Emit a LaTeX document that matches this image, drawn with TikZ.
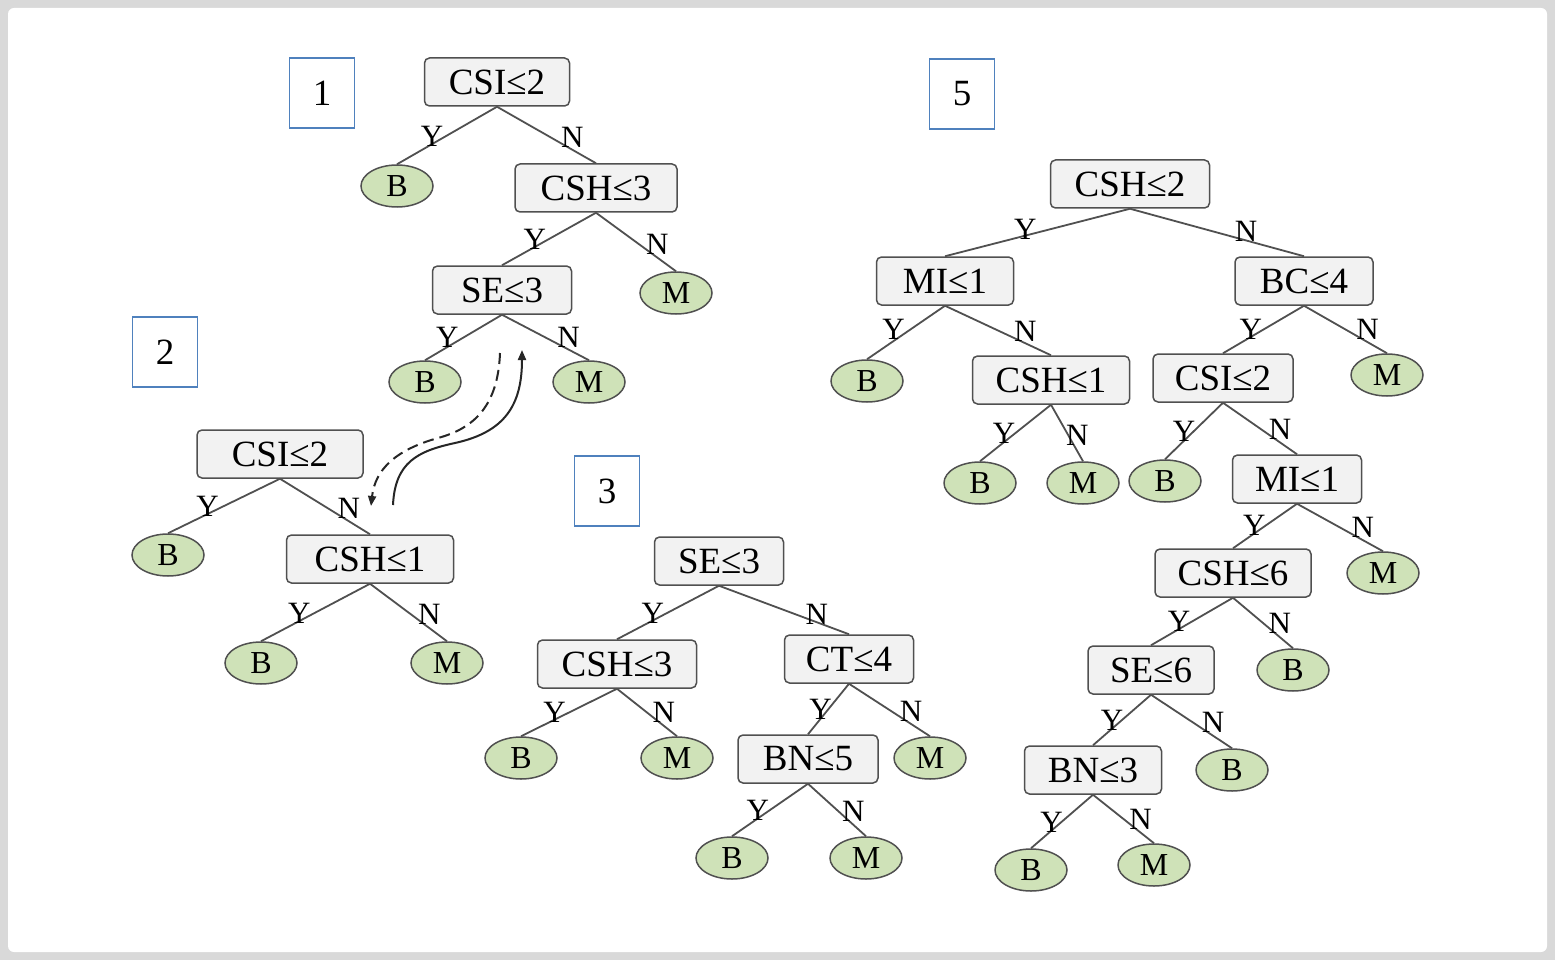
\documentclass[tikz,border=0pt]{standalone}
\usepackage{fontspec}
\setmainfont{Liberation Serif}
\usetikzlibrary{arrows.meta,shapes.geometric}
\definecolor{framegray}{HTML}{D9D9D9}
\definecolor{boxfill}{HTML}{F2F2F2}
\definecolor{boxline}{HTML}{505050}
\definecolor{leaffill}{HTML}{CFE2B8}
\definecolor{edgecol}{HTML}{505050}
\definecolor{tagblue}{HTML}{4F81BD}
\begin{document}
\begin{tikzpicture}[x=1pt,y=-1pt,
  test/.style={draw=boxline, fill=boxfill, rounded corners=5pt, line width=1.5pt,
    minimum width=#1pt, minimum height=48pt, inner sep=0pt,
    font=\fontsize{37}{37}\selectfont},
  leaf/.style={ellipse, draw=boxline, fill=leaffill, line width=1.5pt,
    minimum width=72pt, minimum height=42pt, inner sep=0pt,
    font=\fontsize{32}{32}\selectfont},
  tag/.style={draw=tagblue, fill=white, line width=1.2pt, minimum width=65pt,
    minimum height=70pt, inner sep=0pt, font=\fontsize{37}{37}\selectfont},
  br/.style={draw=edgecol, line width=1.8pt},
  ylab/.style={pos=0.62, yshift=6pt, xshift=-3pt, inner sep=0pt, font=\fontsize{31}{31}\selectfont},
  nlab/.style={pos=0.73, yshift=11pt, xshift=3pt, inner sep=0pt, font=\fontsize{31}{31}\selectfont},
  flow/.style={line width=2pt, draw=black!85, -{Triangle[length=10pt,width=8pt]}}
]
\fill[framegray] (0,0) rectangle (1555,960);
\fill[white, rounded corners=6pt] (8,8) rectangle (1547,952);

% tags
\node[tag] (t1) at (322,93) {1};
\node[tag] (t2) at (165,352) {2};
\node[tag] (t3) at (607,491) {3};
\node[tag] (t5) at (962,94) {5};

% tree 1
\node[test=145] (a1) at (497,82) {CSI≤2};
\node[leaf] (a1y) at (397,186) {B};
\node[test=162] (a2) at (596,188) {CSH≤3};
\node[test=139] (a3) at (502,290) {SE≤3};
\node[leaf] (a2n) at (676,293) {M};
\node[leaf] (a3y) at (425,382) {B};
\node[leaf] (a3n) at (589,382) {M};
\draw[br] (a1.south) -- node[ylab]{Y} (a1y.north);
\draw[br] (a1.south) -- node[nlab]{N} (a2.north);
\draw[br] (a2.south) -- node[ylab]{Y} (a3.north);
\draw[br] (a2.south) -- node[nlab]{N} (a2n.north);
\draw[br] (a3.south) -- node[ylab, xshift=-4pt]{Y} (a3y.north);
\draw[br] (a3.south) -- node[nlab]{N} (a3n.north);

% tree 2
\node[test=166] (b1) at (280,454) {CSI≤2};
\node[leaf] (b1y) at (168,555) {B};
\node[test=167] (b2) at (370,559) {CSH≤1};
\node[leaf] (b2y) at (261,663) {B};
\node[leaf] (b2n) at (447,663) {M};
\draw[br] (b1.south) -- node[ylab]{Y} (b1y.north);
\draw[br] (b1.south) -- node[nlab]{N} (b2.north);
\draw[br] (b2.south) -- node[ylab]{Y} (b2y.north);
\draw[br] (b2.south) -- node[nlab]{N} (b2n.north);

% flow arrows
\coordinate (s0) at (393,505);
\coordinate (s1) at (522,350);
\coordinate (q0) at (500,353);
\coordinate (q1) at (371,506);
\draw[flow] (s0) .. controls (395,462) and (418,451) .. (455,443)
  .. controls (505,432) and (522,405) .. (s1);
\draw[flow, dash pattern=on 11pt off 6pt] (q0) .. controls (498,405) and (475,428) .. (438,438)
  .. controls (395,450) and (375,470) .. (q1);

% tree 3
\node[test=129] (c1) at (719,561) {SE≤3};
\node[test=159] (c2) at (617,664) {CSH≤3};
\node[test=129] (c3) at (849,659) {CT≤4};
\node[leaf] (c2y) at (521,758) {B};
\node[leaf] (c2n) at (677,758) {M};
\node[test=140] (c4) at (808,759) {BN≤5};
\node[leaf] (c3n) at (930,758) {M};
\node[leaf] (c4y) at (732,858) {B};
\node[leaf] (c4n) at (866,858) {M};
\draw[br] (c1.south) -- node[ylab]{Y} (c2.north);
\draw[br] (c1.south) -- node[nlab, yshift=-4pt]{N} (c3.north);
\draw[br] (c2.south) -- node[ylab]{Y} (c2y.north);
\draw[br] (c2.south) -- node[nlab]{N} (c2n.north);
\draw[br] (c3.south) -- node[ylab]{Y} (c4.north);
\draw[br] (c3.south) -- node[nlab]{N} (c3n.north);
\draw[br] (c4.south) -- node[ylab]{Y} (c4y.north);
\draw[br] (c4.south) -- node[nlab]{N} (c4n.north);

% tree 5
\node[test=159] (d1) at (1130,184) {CSH≤2};
\node[test=137] (d2) at (945,281) {MI≤1};
\node[test=138] (d3) at (1304,281) {BC≤4};
\node[leaf] (d2y) at (867,381) {B};
\node[test=157] (d4) at (1051,380) {CSH≤1};
\node[test=140] (d5) at (1223,378) {CSI≤2};
\node[leaf] (d3n) at (1387,375) {M};
\node[leaf] (d4y) at (980,483) {B};
\node[leaf] (d4n) at (1083,483) {M};
\node[leaf] (d5y) at (1165,481) {B};
\node[test=129] (d6) at (1297,479) {MI≤1};
\node[test=156] (d7) at (1233,573) {CSH≤6};
\node[leaf] (d6n) at (1383,573) {M};
\node[test=126] (d8) at (1151,670) {SE≤6};
\node[leaf] (d7n) at (1293,670) {B};
\node[test=137] (d9) at (1093,770) {BN≤3};
\node[leaf] (d8n) at (1232,770) {B};
\node[leaf] (d9y) at (1031,870) {B};
\node[leaf] (d9n) at (1154,865) {M};
\draw[br] (d1.south) -- node[ylab, pos=0.55]{Y} (d2.north);
\draw[br] (d1.south) -- node[nlab, pos=0.65, yshift=-3pt]{N} (d3.north);
\draw[br] (d2.south) -- node[ylab, yshift=4pt]{Y} (d2y.north);
\draw[br] (d2.south) -- node[nlab]{N} (d4.north);
\draw[br] (d3.south) -- node[ylab]{Y} (d5.north);
\draw[br] (d3.south) -- node[nlab]{N} (d3n.north);
\draw[br] (d4.south) -- node[ylab]{Y} (d4y.north);
\draw[br] (d4.south) -- node[nlab]{N} (d4n.north);
\draw[br] (d5.south) -- node[ylab]{Y} (d5y.north);
\draw[br] (d5.south) -- node[nlab]{N} (d6.north);
\draw[br] (d6.south) -- node[ylab]{Y} (d7.north);
\draw[br] (d6.south) -- node[nlab]{N} (d6n.north);
\draw[br] (d7.south) -- node[ylab]{Y} (d8.north);
\draw[br] (d7.south) -- node[nlab]{N} (d7n.north);
\draw[br] (d8.south) -- node[ylab]{Y} (d9.north);
\draw[br] (d8.south) -- node[nlab]{N} (d8n.north);
\draw[br] (d9.south) -- node[ylab]{Y} (d9y.north);
\draw[br] (d9.south) -- node[nlab]{N} (d9n.north);
\end{tikzpicture}
\end{document}
